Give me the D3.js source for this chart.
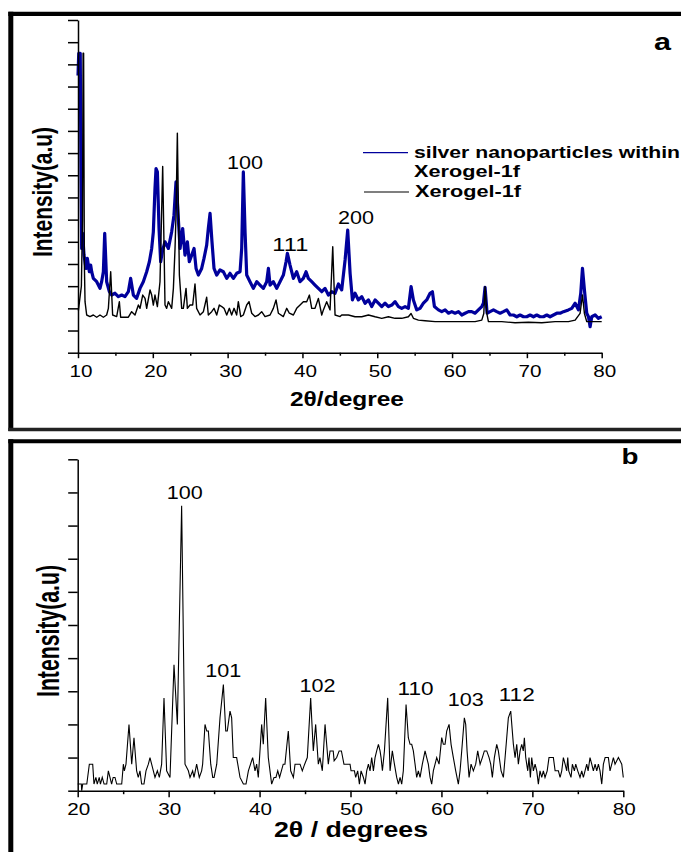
<!DOCTYPE html>
<html><head><meta charset="utf-8">
<script src="https://cdn.jsdelivr.net/npm/d3@7"></script>
<style>body{margin:0;background:#fff}svg{display:block}text{font-family:"Liberation Sans",Arial,sans-serif;fill:#000}</style>
</head><body><svg id="c" width="681" height="852"></svg>
<script>
// ---------- DATA ----------
// Panel a: [2theta, intensity (a.u.)]
const silverXerogel = [[10.0,12.5],[10.1,13.5],[10.3,13.5],[10.4,8.0],[10.49,4.7],[10.62,5.38],[10.8,4.4],[11.07,3.8],[11.25,4.25],[11.52,3.65],[11.69,3.95],[11.83,3.65],[12.05,3.35],[12.5,3.2],[12.94,2.9],[13.16,3.2],[13.39,3.65],[13.57,5.38],[13.83,3.2],[14.19,2.75],[14.5,2.6],[14.95,2.68],[15.39,2.53],[15.84,2.6],[16.28,2.53],[16.73,2.75],[17.04,3.35],[17.4,2.6],[17.84,2.45],[18.29,2.9],[18.73,3.2],[19.18,3.65],[19.54,4.1],[19.85,4.7],[20.07,5.45],[20.29,7.4],[20.43,8.3],[20.61,8.15],[20.83,5.6],[21.05,4.1],[21.3,4.6],[21.63,5.0],[22.08,4.7],[22.52,5.45],[22.83,6.2],[23.1,7.7],[23.28,6.8],[23.64,4.7],[23.99,5.6],[24.3,4.4],[24.62,5.0],[24.88,4.1],[25.2,4.4],[25.51,4.7],[25.78,3.8],[26.09,3.5],[26.53,3.8],[26.84,4.25],[27.2,4.85],[27.42,5.6],[27.65,6.28],[27.91,5.0],[28.18,3.8],[28.54,3.5],[28.98,3.73],[29.43,3.65],[29.88,3.35],[30.32,3.58],[30.77,3.35],[31.21,3.58],[31.66,3.65],[31.88,4.7],[32.1,8.15],[32.33,5.45],[32.55,3.5],[32.99,3.2],[33.44,2.9],[33.89,3.2],[34.33,3.05],[34.78,2.9],[35.22,3.2],[35.45,3.8],[35.67,3.05],[36.11,3.2],[36.56,2.9],[37.0,3.2],[37.45,3.5],[37.81,4.1],[37.99,4.48],[38.34,3.95],[38.79,3.35],[39.23,3.65],[39.68,3.2],[40.12,3.35],[40.48,3.65],[40.79,3.35],[41.24,3.2],[41.68,3.05],[42.13,2.9],[42.58,2.75],[43.02,2.9],[43.47,2.6],[43.91,2.75],[44.36,2.68],[44.81,3.1],[45.25,2.83],[45.7,4.18],[46.05,5.53],[46.37,3.58],[46.68,2.38],[47.03,2.68],[47.48,2.38],[47.93,2.53],[48.37,2.23],[48.82,2.38],[49.26,2.08],[49.71,2.38],[50.15,2.23],[50.6,2.08],[51.04,2.23],[51.49,2.08],[51.94,2.15],[52.38,2.3],[52.83,2.08],[53.27,2.0],[53.72,2.08],[54.16,2.0],[54.52,2.98],[54.83,2.38],[55.28,1.93],[55.72,2.0],[56.17,2.23],[56.61,2.38],[57.06,2.68],[57.37,2.75],[57.64,2.08],[58.17,1.93],[58.62,1.85],[59.07,1.93],[59.51,1.78],[59.96,1.85],[60.4,1.78],[60.85,1.85],[61.29,1.7],[61.74,1.78],[62.19,1.85],[62.63,1.85],[63.08,1.78],[63.52,1.93],[63.97,2.08],[64.19,2.23],[64.41,2.95],[64.68,1.78],[65.08,1.85],[65.53,1.93],[65.97,1.85],[66.42,1.78],[66.86,1.85],[67.31,1.93],[67.76,1.7],[68.2,1.7],[68.65,1.62],[69.09,1.7],[69.54,1.62],[69.98,1.62],[70.43,1.7],[70.88,1.62],[71.32,1.7],[71.77,1.62],[72.21,1.62],[72.66,1.7],[73.1,1.62],[73.55,1.7],[74.0,1.78],[74.44,1.78],[74.89,1.85],[75.55,1.93],[76.0,2.0],[76.45,2.23],[76.89,1.93],[77.2,2.68],[77.43,3.8],[77.69,2.83],[78.0,1.78],[78.23,1.62],[78.45,1.17],[78.67,1.62],[79.12,1.7],[79.56,1.55],[80.0,1.62]];

const xerogel = [[10.05,1.9],[10.45,3.0],[10.6,6.0],[10.68,13.5],[10.75,13.5],[10.85,4.0],[10.94,2.3],[11.16,1.7],[11.6,1.63],[12.05,1.7],[12.5,1.6],[12.94,1.7],[13.39,1.6],[13.83,1.7],[14.06,2.0],[14.37,3.65],[14.63,1.7],[15.17,1.63],[15.53,2.3],[15.7,1.6],[16.28,1.6],[16.73,1.6],[17.17,1.85],[17.62,1.7],[18.07,2.15],[18.29,2.0],[18.65,2.6],[18.96,2.45],[19.18,2.0],[19.63,2.83],[19.85,2.6],[20.07,2.15],[20.29,2.6],[20.61,2.08],[20.96,3.2],[21.32,8.4],[21.63,2.15],[21.85,2.0],[22.08,2.3],[22.3,2.15],[22.52,2.0],[22.75,2.9],[22.97,4.7],[23.1,6.2],[23.28,9.9],[23.55,3.5],[23.86,2.0],[24.08,2.0],[24.44,2.9],[24.62,2.0],[24.97,2.15],[25.33,2.15],[25.64,3.1],[25.86,2.0],[26.31,1.7],[26.76,1.85],[27.2,2.5],[27.42,1.7],[27.87,1.85],[28.18,2.0],[28.54,1.7],[28.89,2.15],[29.21,2.08],[29.52,2.0],[29.88,1.7],[30.23,2.0],[30.54,1.7],[30.86,2.0],[31.21,1.7],[31.43,2.3],[31.75,1.63],[32.1,1.7],[32.55,2.15],[32.86,2.3],[33.22,1.78],[33.66,1.63],[34.11,1.7],[34.55,1.85],[35.0,1.63],[35.67,1.7],[36.11,2.0],[36.47,2.38],[36.78,1.78],[37.45,1.63],[37.9,2.0],[38.25,1.78],[38.79,1.7],[39.23,2.0],[39.68,2.15],[40.12,2.3],[40.57,2.3],[40.93,2.6],[41.24,2.0],[41.68,2.0],[42.13,2.45],[42.58,1.7],[42.8,1.93],[43.24,2.3],[43.69,1.93],[44.05,4.78],[44.36,1.7],[45.03,1.63],[45.25,1.7],[46.14,1.7],[47.03,1.62],[47.93,1.62],[48.82,1.7],[49.71,1.62],[50.6,1.55],[51.49,1.62],[52.38,1.55],[53.27,1.55],[54.16,1.62],[54.52,1.77],[54.83,1.55],[55.5,1.47],[56.39,1.44],[57.73,1.4],[59.07,1.4],[60.4,1.4],[61.74,1.4],[63.08,1.4],[63.97,1.47],[64.24,1.77],[64.41,2.98],[64.64,1.77],[64.86,1.4],[66.64,1.4],[68.42,1.35],[70.21,1.37],[71.99,1.35],[73.77,1.4],[75.55,1.4],[76.45,1.47],[77.11,1.77],[77.43,2.6],[77.69,1.77],[78.0,1.4],[79.12,1.4],[80.0,1.4]];

// Panel b: [2theta, intensity (a.u.)]
const patternB = [[20.0,0.2],[20.4,0.2],[20.44,0],[20.55,0.2],[21.0,0.2],[21.28,0.8],[21.65,0.8],[21.79,0.2],[22.0,0.4],[22.15,0.2],[22.37,0.4],[22.5,0.2],[22.7,0.4],[22.9,0.2],[23.19,0.2],[23.37,0.6],[23.55,0.4],[23.73,0.2],[23.9,0.4],[24.1,0.4],[24.29,0.2],[24.84,0.2],[25.02,0.8],[25.13,0.6],[25.31,0.8],[25.64,2.0],[25.94,0.8],[26.19,1.6],[26.48,0.6],[26.66,0.4],[26.85,0.6],[27.03,0.2],[27.29,0.2],[27.51,0.6],[27.77,0.8],[27.95,1.0],[28.13,0.8],[28.32,0.6],[28.5,0.4],[28.76,0.6],[28.98,0.4],[29.23,0.8],[29.49,2.8],[29.78,0.6],[30.15,0.4],[30.59,3.8],[30.96,2.0],[31.43,8.6],[31.8,0.8],[32.17,0.6],[32.35,0.4],[32.64,0.6],[32.79,0.4],[33.08,0.8],[33.37,0.4],[33.63,0.6],[33.74,0.8],[34.0,2.0],[34.19,1.8],[34.37,1.8],[34.63,0.8],[34.85,0.4],[35.0,0.4],[35.29,0.8],[35.65,2.2],[36.02,3.2],[36.28,1.8],[36.45,1.8],[36.75,2.4],[36.93,2.2],[37.11,1.0],[37.48,1.0],[37.85,0.4],[38.22,0.2],[38.51,0.2],[38.77,0.6],[39.24,1.0],[39.5,0.6],[39.68,0.8],[39.86,0.4],[40.23,2.0],[40.41,1.4],[40.67,2.8],[40.96,1.0],[41.33,0.2],[41.59,0.4],[41.8,0.4],[42.0,0.6],[42.2,0.4],[42.4,0.6],[42.6,0.8],[42.79,0.8],[43.16,1.8],[43.42,0.6],[43.72,0.4],[43.9,0.8],[44.45,0.8],[44.7,0.6],[44.96,0.8],[45.25,1.0],[45.62,2.8],[45.91,1.2],[46.17,2.0],[46.46,0.8],[46.64,1.0],[46.9,0.6],[47.2,2.0],[47.56,0.8],[47.75,1.2],[48.1,1.2],[48.2,0.9],[48.48,1.0],[48.75,1.2],[49.0,1.2],[49.28,0.8],[49.95,0.8],[50.06,0.6],[50.43,0.6],[50.57,0.4],[50.79,0.6],[50.98,0.2],[51.16,0.6],[51.42,0.4],[51.6,0.2],[51.78,0.6],[51.97,0.8],[52.15,0.6],[52.33,1.0],[52.52,0.6],[52.7,1.0],[52.88,1.2],[53.07,1.4],[53.25,1.2],[53.36,1.0],[53.51,0.6],[53.73,1.2],[54.09,2.8],[54.35,0.6],[54.6,1.2],[54.83,0.8],[55.08,0.4],[55.27,0.2],[55.45,0.4],[55.63,0.2],[55.81,0.6],[56.11,2.6],[56.36,1.6],[56.55,1.4],[56.73,1.4],[56.91,1.2],[57.1,0.8],[57.28,0.4],[57.46,0.6],[57.65,0.4],[57.9,0.8],[58.2,1.2],[58.38,1.0],[58.56,0.8],[58.75,0.4],[58.93,0.2],[59.11,0.6],[59.3,0.8],[59.48,1.0],[59.74,0.8],[60.03,1.6],[60.21,1.4],[60.4,1.4],[60.58,1.8],[60.84,2.0],[61.06,1.4],[61.31,1.0],[61.57,0.6],[61.86,0.2],[62.05,0.6],[62.23,1.2],[62.52,2.2],[62.67,2.0],[62.82,1.2],[63.04,0.4],[63.26,0.8],[63.51,0.6],[63.77,0.8],[63.99,1.2],[64.25,0.8],[64.5,1.0],[64.72,1.2],[64.98,1.2],[65.24,1.0],[65.42,0.8],[65.6,0.4],[65.82,1.0],[66.08,1.4],[66.26,1.2],[66.56,0.6],[66.81,0.4],[67.0,1.0],[67.18,1.6],[67.36,2.2],[67.62,2.4],[67.91,1.4],[68.1,1.0],[68.28,1.4],[68.46,0.8],[68.65,1.2],[68.83,1.4],[69.0,1.2],[69.12,1.6],[69.27,1.0],[69.49,0.6],[69.63,1.0],[69.78,0.4],[69.93,1.0],[70.11,0.6],[70.3,0.8],[70.48,0.6],[70.66,0.2],[70.84,0.6],[71.03,0.4],[71.21,0.6],[71.39,0.4],[71.63,0.6],[71.83,1.0],[72.31,1.0],[72.5,0.6],[72.86,0.6],[73.05,0.4],[73.23,0.6],[73.41,1.0],[73.6,0.8],[73.78,0.6],[73.89,1.0],[74.0,0.6],[74.25,0.4],[74.4,0.8],[74.62,0.6],[74.77,0.8],[74.99,0.6],[75.24,0.4],[75.43,0.6],[75.61,0.4],[75.79,0.6],[75.98,0.8],[76.13,0.6],[76.34,1.0],[76.53,0.8],[76.71,0.6],[76.9,0.8],[77.08,0.6],[77.26,0.8],[77.44,0.6],[77.63,0.2],[77.81,0.8],[78.0,1.0],[78.36,1.0],[78.54,0.6],[78.73,0.8],[78.91,1.0],[79.09,0.8],[79.46,1.0],[79.83,0.8],[80.0,0.4]];

// ticks
const xMajorA = [10,20,30,40,50,60,70,80];
const xMinorA = [15,25,35,45,55,65,75];
const yTicksA = [0,1,2,3,4,5,6,7,8,9,10,11,12,13,14,15];
const xMajorB = [20,30,40,50,60,70,80];
const xMinorB = [25,35,45,55,65,75];
const yTicksB = [0,1,2,3,4,5,6,7,8,9,10];

// peak labels (text, 2theta, intensity level)
const peakNamesA = ["100","111","200"];
const peakPosA = [32.33,38.38,47.17];
const peakLevA = [8.28,4.6,5.79];
const peakNamesB = ["100","101","102","110","103","112"];
const peakPosB = [31.78,36.01,46.37,57.15,62.68,68.28];
const peakLevB = [8.79,3.44,2.99,2.89,2.56,2.71];

const legendNames = ["silver nanoparticles within", "Xerogel-1f", "Xerogel-1f"];
const seriesColors = ["#00009c", "#000000"];

// ---------- DRAW ----------
const svg = d3.select("#c");

function txt(x, y, s, o) {
  const g = svg.append("g").attr("transform", `translate(${x},${y})` + (o.rot ? " rotate(-90)" : ""));
  const t = g.append("text").text(s)
    .attr("font-size", o.size)
    .attr("font-weight", o.bold ? "bold" : "normal")
    .attr("text-anchor", o.anchor || "middle");
  if (o.w) t.attr("textLength", o.w).attr("lengthAdjust", "spacingAndGlyphs");
  return t;
}

// panel frames
const fr = svg.append("g").attr("stroke", "#000").attr("fill", "none");
fr.append("line").attr("x1", 8.3).attr("x2", 681).attr("y1", 13.8).attr("y2", 13.8).attr("stroke-width", 4.2);
fr.append("line").attr("x1", 10.8).attr("x2", 10.8).attr("y1", 11.7).attr("y2", 431).attr("stroke-width", 5);
fr.append("line").attr("x1", 8.3).attr("x2", 681).attr("y1", 429.5).attr("y2", 429.5).attr("stroke-width", 3.5).attr("stroke", "#222");
fr.append("line").attr("x1", 8.3).attr("x2", 681).attr("y1", 441.3).attr("y2", 441.3).attr("stroke-width", 4);
fr.append("line").attr("x1", 10.8).attr("x2", 10.8).attr("y1", 439.3).attr("y2", 852).attr("stroke-width", 5);

function styleAxis(g) {
  g.selectAll("path").attr("stroke-width", 1.5);
  g.selectAll("line").attr("stroke-width", 1.5);
}

// ===== Panel a =====
const xA = d3.scaleLinear().domain([10, 80]).range([78, 601.7]);
const yA = d3.scaleLinear().domain([0, 15]).range([352.7, 20]);

const lineA = d3.line().x(d => xA(d[0])).y(d => yA(d[1]));
svg.append("path").datum(silverXerogel).attr("d", lineA)
  .attr("fill", "none").attr("stroke", seriesColors[0]).attr("stroke-width", 3.2).attr("stroke-linejoin", "round");
svg.append("path").datum(xerogel).attr("d", lineA)
  .attr("fill", "none").attr("stroke", seriesColors[1]).attr("stroke-width", 1.4).attr("stroke-linejoin", "round");

svg.append("g").attr("transform", `translate(78,0)`)
  .call(d3.axisLeft(yA).tickValues(yTicksA).tickSize(10).tickSizeOuter(0).tickFormat(""))
  .call(styleAxis);
svg.append("g").attr("transform", `translate(0,352.7)`)
  .call(d3.axisBottom(xA).tickValues(xMajorA).tickSize(5.5).tickSizeOuter(0).tickFormat(""))
  .call(styleAxis);
svg.append("g").attr("transform", `translate(0,352.7)`)
  .call(d3.axisBottom(xA).tickValues(xMinorA).tickSize(3).tickSizeOuter(0).tickFormat(""))
  .call(g => g.select(".domain").remove()).call(styleAxis);

xMajorA.forEach(v => txt(xA(v) + 3, 376.7, String(v), {size: 16, w: 23}));
txt(290, 405.5, "2\u03B8/degree", {size: 21, bold: true, anchor: "start", w: 114});
txt(52.3, 192, "Intensity(a.u)", {size: 28.5, bold: true, rot: true, w: 130});
peakNamesA.forEach((s, i) => txt(xA(peakPosA[i]), yA(peakLevA[i]), s, {size: 17.5, w: 36}));
txt(662.5, 50, "a", {size: 24, bold: true, w: 17});

// legend
svg.append("line").attr("x1", 363).attr("x2", 408).attr("y1", 152.7).attr("y2", 152.7)
  .attr("stroke", seriesColors[0]).attr("stroke-width", 1.2);
svg.append("line").attr("x1", 364).attr("x2", 409).attr("y1", 192).attr("y2", 192)
  .attr("stroke", seriesColors[1]).attr("stroke-width", 1.2);
txt(414, 157.7, legendNames[0], {size: 16.5, bold: true, anchor: "start", w: 266});
txt(414, 176.7, legendNames[1], {size: 16.5, bold: true, anchor: "start", w: 106});
txt(415, 196.7, legendNames[2], {size: 16.5, bold: true, anchor: "start", w: 106});

// ===== Panel b =====
const xB = d3.scaleLinear().domain([20, 80]).range([77.7, 623.3]);
const yB = d3.scaleLinear().domain([0, 10]).range([790.7, 459.3]);
const lineB = d3.line().x(d => xB(d[0])).y(d => yB(d[1]));
svg.append("path").datum(patternB).attr("d", lineB)
  .attr("fill", "none").attr("stroke", "#000").attr("stroke-width", 1.1).attr("stroke-linejoin", "miter");

svg.append("g").attr("transform", `translate(77.7,0)`)
  .call(d3.axisLeft(yB).tickValues(yTicksB).tickSize(9.5).tickSizeOuter(0).tickFormat(""))
  .call(styleAxis);
svg.append("g").attr("transform", `translate(0,790.7)`)
  .call(d3.axisBottom(xB).tickValues(xMajorB).tickSize(6.5).tickSizeOuter(0).tickFormat(""))
  .call(styleAxis);
svg.append("g").attr("transform", `translate(0,790.7)`)
  .call(d3.axisBottom(xB).tickValues(xMinorB).tickSize(3.5).tickSizeOuter(0).tickFormat(""))
  .call(g => g.select(".domain").remove()).call(styleAxis);

xMajorB.forEach(v => txt(xB(v) + 1, 815, String(v), {size: 16, w: 23}));
txt(274, 836.7, "2\u03B8 / degrees", {size: 22, bold: true, anchor: "start", w: 154});
txt(59.3, 631, "Intensity(a.u)", {size: 31, bold: true, rot: true, w: 132});
peakNamesB.forEach((s, i) => txt(xB(peakPosB[i]), yB(peakLevB[i]), s, {size: 17.5, w: 36}));
txt(630, 464.3, "b", {size: 22, bold: true, w: 17});
</script></body></html>
